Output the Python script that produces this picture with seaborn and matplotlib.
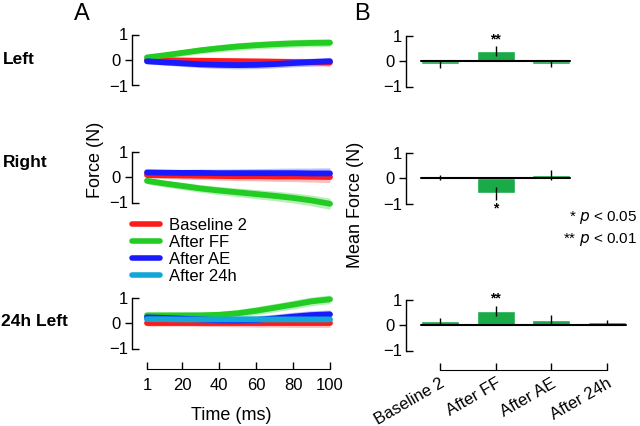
import numpy as np
import pandas as pd
import matplotlib
matplotlib.use("Agg")
import matplotlib.pyplot as plt
import seaborn as sns

sns.set_style("white")
plt.rcParams['font.family'] = ['Liberation Sans', 'DejaVu Sans']
for key in ["text.color", "axes.labelcolor", "xtick.color", "ytick.color",
            "axes.edgecolor"]:
    plt.rcParams[key] = "black"

# time axis (ms)
time = [1, 10, 20, 30, 40, 50, 60, 70, 80, 90, 100]

conditions = ["Baseline 2", "After FF", "After AE", "After 24h"]
colors = {"Baseline 2": "#ff1a1a", "After FF": "#22cc22",
          "After AE": "#1a1aff", "After 24h": "#11a8d8"}
bands = {"Baseline 2": "#ffa8a8", "After FF": "#a0eaa0",
         "After AE": "#a8a8ff", "After 24h": "#98d6ee"}

# panel A force traces (N)
left_base = [0.0, -0.01, -0.02, -0.03, -0.04, -0.05, -0.06, -0.07, -0.08, -0.09, -0.10]
left_ff = [0.1, 0.18, 0.28, 0.38, 0.46, 0.53, 0.58, 0.62, 0.65, 0.67, 0.68]
left_ae = [-0.05, -0.09, -0.13, -0.17, -0.19, -0.2, -0.19, -0.16, -0.12, -0.08, -0.05]
left_band = [0.1, 0.11, 0.12, 0.13, 0.14, 0.15, 0.15, 0.15, 0.15, 0.15, 0.15]

right_base = [0.08, 0.07, 0.06, 0.05, 0.04, 0.03, 0.03, 0.02, 0.02, 0.01, 0.0]
right_ff = [-0.15, -0.25, -0.35, -0.45, -0.53, -0.6, -0.67, -0.74, -0.82, -0.92, -1.05]
right_ae = [0.18, 0.17, 0.16, 0.16, 0.15, 0.15, 0.15, 0.15, 0.15, 0.14, 0.14]
right_band = [0.12, 0.13, 0.14, 0.15, 0.16, 0.17, 0.18, 0.19, 0.2, 0.21, 0.22]

left24_base = [0.0, 0.0, 0.0, 0.0, 0.0, 0.0, 0.0, 0.0, 0.0, 0.0, 0.0]
left24_ff = [0.3, 0.3, 0.3, 0.3, 0.32, 0.38, 0.48, 0.6, 0.72, 0.85, 0.93]
left24_ae = [0.22, 0.2, 0.17, 0.14, 0.11, 0.1, 0.12, 0.18, 0.25, 0.31, 0.34]
left24_24h = [0.15, 0.15, 0.14, 0.14, 0.14, 0.14, 0.14, 0.14, 0.14, 0.14, 0.14]
left24_band = [0.12, 0.12, 0.12, 0.13, 0.14, 0.15, 0.16, 0.16, 0.17, 0.17, 0.17]

# panel B mean force (N) and error
left_mean = [-0.12, 0.4, -0.12]
left_err = [0.15, 0.2, 0.12]
right_mean = [0.02, -0.6, 0.13]
right_err = [0.1, 0.25, 0.2]
left24_mean = [0.15, 0.55, 0.2, 0.1]
left24_err = [0.12, 0.2, 0.2, 0.1]

W, H = 640, 426
fig = plt.figure(figsize=(W / 100, H / 100), dpi=100)


def px_axes(x0, x1, yc, unit=25.5):
    return fig.add_axes([x0 / W, 1 - (yc + unit) / H, (x1 - x0) / W, 2 * unit / H])


def style_y(ax):
    ax.set_ylim(-1, 1)
    for s in ["top", "right", "bottom"]:
        ax.spines[s].set_visible(False)
    ax.spines["left"].set_bounds(-1, 1)
    ax.spines["left"].set_linewidth(1)
    ax.set_yticks([-1, 1])
    ax.set_yticklabels(["\u22121", "1"])
    ax.set_yticks([0], minor=True)
    ax.set_yticklabels(["0"], minor=True)
    ax.tick_params(axis="y", which="major", direction="in", length=5, width=1,
                   labelsize=12, pad=3, left=True)
    ax.tick_params(axis="y", which="minor", direction="out", length=5, width=1,
                   labelsize=12, pad=3, left=True)
    ax.set_ylabel("")


def trace_panel(ax, series, band, bottom=False):
    ax.plot([1, 100], [0, 0], color="black", lw=0.8, zorder=1)
    for cond, vals in series:
        lo = np.array(vals) - np.array(band)
        hi = np.array(vals) + np.array(band)
        ax.fill_between(time, lo, hi, color=bands[cond], alpha=0.75, lw=0,
                        clip_on=False, zorder=2)
    for cond, vals in series:
        sns.lineplot(x=time, y=vals, ax=ax, color=colors[cond], lw=4.2,
                     label=cond, legend=False, clip_on=False, zorder=3)
    ax.set_xlim(-7.1, 100)
    style_y(ax)
    if bottom:
        ax.spines["bottom"].set_visible(True)
        ax.spines["bottom"].set_position(("outward", 15))
        ax.spines["bottom"].set_bounds(1, 100)
        ax.set_xticks([1, 20, 40, 60, 80, 100])
        ax.tick_params(axis="x", direction="in", length=5, width=1, labelsize=12,
                       bottom=True, pad=6)
        ax.set_xlabel("Time (ms)", fontsize=13, labelpad=10)
    else:
        ax.set_xticks([])
        ax.set_xlabel("")


def bar_panel(ax, means, errs, stars, bottom=False):
    cats = conditions[:len(means)]
    df = pd.DataFrame({"cond": cats, "force": means})
    sns.barplot(data=df, x="cond", y="force", order=conditions, color="#1aaa48",
                saturation=1, width=0.68, errorbar=None, ax=ax, zorder=2)
    ax.errorbar(range(len(means)), means, yerr=errs, fmt="none", ecolor="black",
                elinewidth=1, capsize=0, zorder=4)
    ax.plot([-0.34, len(means) - 1 + 0.34], [0, 0], color="black", lw=1.5, zorder=3)
    for i, (txt, y) in stars.items():
        ax.text(i, y, txt, ha="center", va="center", fontsize=10, fontweight="bold")
    ax.set_xlim(-0.61, 3.5)
    style_y(ax)
    if bottom:
        ax.spines["bottom"].set_visible(True)
        ax.spines["bottom"].set_position(("outward", 14))
        ax.spines["bottom"].set_bounds(0, 3)
        ax.tick_params(axis="x", direction="in", length=5, width=1, labelsize=12,
                       bottom=True, pad=4)
        ax.set_xticks(range(4))
        ax.set_xticklabels(conditions, rotation=30, ha="right",
                           rotation_mode="anchor")
    else:
        ax.set_xticks([])
    ax.set_xlabel("")


ax1 = px_axes(132, 330, 60)
trace_panel(ax1, [("Baseline 2", left_base), ("After FF", left_ff),
                  ("After AE", left_ae)], left_band)
ax2 = px_axes(132, 330, 177)
trace_panel(ax2, [("Baseline 2", right_base), ("After FF", right_ff),
                  ("After AE", right_ae)], right_band)
ax3 = px_axes(132, 330, 323)
trace_panel(ax3, [("Baseline 2", left24_base), ("After FF", left24_ff),
                  ("After AE", left24_ae), ("After 24h", left24_24h)],
            left24_band, bottom=True)

bx1 = px_axes(406, 635, 61)
bar_panel(bx1, left_mean, left_err, {1: ("**", 0.85)})
bx2 = px_axes(406, 635, 178)
bar_panel(bx2, right_mean, right_err, {1: ("*", -1.2)})
bx3 = px_axes(406, 635, 325)
bar_panel(bx3, left24_mean, left24_err, {1: ("**", 1.05)}, bottom=True)

# legend
handles = [plt.Line2D([], [], color=colors[c], lw=4) for c in conditions]
fig.legend(handles, conditions, loc="upper left",
           bbox_to_anchor=(132 / W, 1 - 218 / H), frameon=False, fontsize=12,
           handlelength=1.7, handletextpad=0.5, labelspacing=0.12,
           borderaxespad=0, borderpad=0)

# texts
fig.text(82 / W, 1 - 14 / H, "A", fontsize=17, ha="center", va="center")
fig.text(362 / W, 1 - 14 / H, "B", fontsize=17, ha="center", va="center")
fig.text(3 / W, 1 - 60 / H, "Left", fontsize=12.5, fontweight="bold", va="center")
fig.text(3 / W, 1 - 162 / H, "Right", fontsize=12.5, fontweight="bold", va="center")
fig.text(1 / W, 1 - 322 / H, "24h Left", fontsize=12.5, fontweight="bold", va="center")
fig.text(95 / W, 1 - 160 / H, "Force (N)", fontsize=13, rotation=90,
         ha="center", va="center")
fig.text(355 / W, 1 - 205 / H, "Mean Force (N)", fontsize=13, rotation=90,
         ha="center", va="center")
fig.text(637 / W, 1 - 217 / H, r"* $\it{p}$ < 0.05", fontsize=11, ha="right",
         va="center")
fig.text(637 / W, 1 - 239 / H, r"** $\it{p}$ < 0.01", fontsize=11, ha="right",
         va="center")

plt.savefig("out.png", dpi=100)
